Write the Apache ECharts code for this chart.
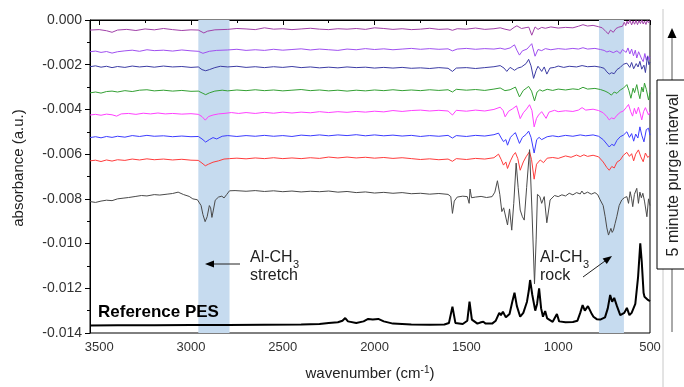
<!DOCTYPE html>
<html><head><meta charset="utf-8">
<script src="https://cdn.jsdelivr.net/npm/echarts@6/dist/echarts.min.js"></script>
<style>html,body{margin:0;padding:0;background:#fff}#c{width:684px;height:387px}</style>
</head><body><div id="c"></div>
<script>
var xTicks = [3500,3000,2500,2000,1500,1000,500];
var yTicks = [0,-0.002,-0.004,-0.006,-0.008,-0.010,-0.012,-0.014];
var bandStretch = [2960, 2790];
var bandRock = [778, 642];

var purge0 = [[3550,-0.00045],[3500,-0.00043],[3460,-0.00048],[3430,-0.00055],[3400,-0.00045],[3350,-0.00042],[3300,-0.00047],[3250,-0.0004],[3200,-0.00044],[3150,-0.00038],[3100,-0.00043],[3050,-0.00047],[3000,-0.00044],[2960,-0.00045],[2930,-0.00058],[2910,-0.0005],[2870,-0.00044],[2800,-0.00042],[2750,-0.00038],[2700,-0.0004],[2650,-0.00043],[2600,-0.00035],[2550,-0.00041],[2500,-0.00039],[2450,-0.00043],[2400,-0.0004],[2350,-0.00037],[2300,-0.00041],[2250,-0.00043],[2200,-0.00039],[2150,-0.00041],[2100,-0.00038],[2050,-0.00042],[2000,-0.00035],[1950,-0.00038],[1900,-0.00042],[1850,-0.00039],[1800,-0.00043],[1750,-0.00041],[1700,-0.00037],[1650,-0.00042],[1600,-0.0004],[1576,-0.00046],[1550,-0.00039],[1500,-0.00041],[1450,-0.00036],[1400,-0.00042],[1350,-0.00039],[1316,-0.00035],[1290,-0.00041],[1262,-0.00046],[1240,-0.00033],[1225,-0.00026],[1200,-0.00038],[1175,-0.00034],[1160,-0.00032],[1144,-0.00068],[1126,-0.00031],[1110,-0.00042],[1090,-0.00033],[1070,-0.00037],[1040,-0.00031],[1000,-0.00036],[960,-0.00033],[920,-0.00035],[890,-0.00028],[865,-0.00021],[840,-0.00027],[810,-0.00024],[780,-0.0003],[760,-0.00035],[740,-0.00052],[727,-0.00062],[715,-0.00045],[700,-0.00055],[685,-0.00038],[670,-0.00032],[660,-0.00024],[650,-0.00028],[640,-0.0001],[632,-0.00025],[625,-0.00005],[618,-0.00018],[610,0.0],[600,-0.00022],[592,-0.00004],[584,-0.00019],[576,-0.00002],[568,-0.00021],[560,-0.00003],[552,-0.00016],[545,0.0],[537,-0.00018],[530,-0.00005],[522,-0.0002],[515,-0.00003],[508,-0.00012],[500,-0.00002]];

var purge1 = [[3550,-0.00142],[3520,-0.00139],[3490,-0.00145],[3460,-0.00141],[3430,-0.00148],[3400,-0.00142],[3360,-0.00138],[3320,-0.00135],[3280,-0.0014],[3240,-0.00133],[3200,-0.00137],[3150,-0.00135],[3100,-0.00139],[3050,-0.00134],[3000,-0.00138],[2960,-0.0014],[2935,-0.00149],[2900,-0.0014],[2860,-0.00136],[2800,-0.00134],[2750,-0.00131],[2700,-0.00136],[2650,-0.00133],[2600,-0.00136],[2550,-0.00131],[2500,-0.00135],[2450,-0.00132],[2400,-0.00129],[2350,-0.00134],[2300,-0.0013],[2250,-0.00133],[2200,-0.00136],[2150,-0.0013],[2100,-0.00133],[2050,-0.00128],[2000,-0.00132],[1950,-0.00129],[1900,-0.00133],[1850,-0.0013],[1800,-0.00127],[1750,-0.00131],[1700,-0.00128],[1650,-0.00131],[1600,-0.00129],[1576,-0.00138],[1550,-0.0013],[1500,-0.00127],[1450,-0.00131],[1400,-0.00128],[1350,-0.0013],[1316,-0.00126],[1290,-0.00131],[1262,-0.00125],[1238,-0.00111],[1225,-0.00135],[1211,-0.00157],[1195,-0.00138],[1170,-0.0013],[1144,-0.00106],[1126,-0.00162],[1110,-0.00132],[1090,-0.00137],[1070,-0.00128],[1040,-0.00133],[1000,-0.00128],[960,-0.00131],[920,-0.00127],[890,-0.0013],[865,-0.00124],[840,-0.0013],[800,-0.00127],[770,-0.00132],[750,-0.00136],[735,-0.00143],[720,-0.00139],[700,-0.00146],[680,-0.00138],[662,-0.0015],[650,-0.00132],[642,-0.00127],[630,-0.00145],[620,-0.00125],[610,-0.00152],[600,-0.0013],[590,-0.0016],[580,-0.00135],[572,-0.0017],[562,-0.00142],[555,-0.00134],[545,-0.00175],[537,-0.00186],[528,-0.0015],[520,-0.0018],[512,-0.0016],[504,-0.00178],[500,-0.00165]];

var purge2 = [[3550,-0.00209],[3520,-0.00205],[3490,-0.00211],[3460,-0.00207],[3430,-0.00213],[3400,-0.00208],[3360,-0.00212],[3320,-0.00206],[3280,-0.0021],[3240,-0.00207],[3200,-0.00211],[3150,-0.00206],[3100,-0.0021],[3050,-0.00208],[3000,-0.00212],[2960,-0.0021],[2940,-0.00222],[2920,-0.00227],[2900,-0.00222],[2870,-0.00213],[2840,-0.00207],[2800,-0.0021],[2750,-0.00207],[2700,-0.00212],[2650,-0.00209],[2600,-0.00213],[2550,-0.00209],[2500,-0.00212],[2450,-0.00208],[2400,-0.00213],[2350,-0.0021],[2300,-0.00214],[2250,-0.00211],[2200,-0.00214],[2150,-0.0021],[2100,-0.00213],[2050,-0.00211],[2000,-0.00215],[1950,-0.00212],[1900,-0.00215],[1850,-0.00212],[1800,-0.00216],[1750,-0.00214],[1700,-0.00217],[1650,-0.00213],[1600,-0.00216],[1576,-0.0023],[1555,-0.00215],[1500,-0.00213],[1450,-0.00217],[1400,-0.00213],[1350,-0.00209],[1316,-0.00204],[1295,-0.00215],[1280,-0.0023],[1262,-0.00212],[1250,-0.00218],[1238,-0.00225],[1220,-0.00215],[1200,-0.0021],[1175,-0.00195],[1161,-0.00176],[1148,-0.00205],[1134,-0.00261],[1120,-0.00225],[1110,-0.00207],[1100,-0.00218],[1090,-0.0023],[1076,-0.0021],[1062,-0.00242],[1045,-0.00215],[1020,-0.00212],[1000,-0.00206],[970,-0.00212],[940,-0.00207],[900,-0.0021],[870,-0.00204],[840,-0.00209],[800,-0.00207],[770,-0.00211],[750,-0.00216],[735,-0.00232],[722,-0.00242],[710,-0.00236],[695,-0.0024],[680,-0.00222],[662,-0.00212],[645,-0.00198],[626,-0.00193],[610,-0.00212],[600,-0.0019],[589,-0.00218],[575,-0.00195],[565,-0.0021],[555,-0.00185],[545,-0.0022],[533,-0.00202],[525,-0.00235],[514,-0.00164],[506,-0.002],[500,-0.00188]];

var purge3 = [[3550,-0.00326],[3520,-0.00322],[3490,-0.00327],[3460,-0.0032],[3430,-0.00318],[3400,-0.00322],[3360,-0.00316],[3320,-0.0032],[3280,-0.00314],[3240,-0.00312],[3200,-0.00317],[3150,-0.00314],[3100,-0.00318],[3050,-0.00315],[3000,-0.00319],[2960,-0.00318],[2935,-0.00328],[2920,-0.00334],[2900,-0.00326],[2870,-0.00318],[2830,-0.00314],[2800,-0.00317],[2750,-0.00313],[2700,-0.00316],[2650,-0.00312],[2600,-0.00316],[2550,-0.00313],[2500,-0.00317],[2450,-0.00314],[2400,-0.00311],[2350,-0.00316],[2300,-0.00313],[2250,-0.00317],[2200,-0.00314],[2150,-0.00318],[2100,-0.00314],[2050,-0.00317],[2000,-0.00313],[1950,-0.00316],[1900,-0.00312],[1850,-0.00316],[1800,-0.00313],[1750,-0.00316],[1700,-0.00312],[1650,-0.00315],[1600,-0.00312],[1576,-0.00322],[1555,-0.0031],[1500,-0.00314],[1450,-0.00311],[1400,-0.00315],[1350,-0.00309],[1316,-0.00304],[1290,-0.00316],[1262,-0.00312],[1245,-0.00305],[1233,-0.003],[1211,-0.00344],[1190,-0.00315],[1175,-0.00306],[1161,-0.00297],[1145,-0.00318],[1129,-0.00362],[1115,-0.00322],[1100,-0.00312],[1085,-0.00318],[1060,-0.0031],[1030,-0.00315],[1000,-0.00309],[960,-0.00313],[920,-0.00308],[890,-0.00311],[865,-0.00301],[840,-0.00309],[800,-0.00306],[770,-0.00311],[745,-0.00318],[728,-0.00325],[710,-0.00336],[695,-0.00322],[680,-0.00328],[662,-0.00313],[645,-0.00305],[626,-0.00289],[615,-0.00315],[604,-0.0035],[592,-0.00305],[584,-0.00325],[572,-0.00289],[562,-0.0033],[555,-0.00352],[545,-0.003],[537,-0.00322],[530,-0.00282],[520,-0.0031],[508,-0.00358],[500,-0.00325]];

var purge4 = [[3550,-0.00425],[3520,-0.00422],[3490,-0.00426],[3460,-0.00421],[3430,-0.00424],[3405,-0.0043],[3380,-0.0042],[3340,-0.00418],[3300,-0.00422],[3260,-0.00417],[3220,-0.0042],[3180,-0.00416],[3140,-0.0042],[3100,-0.00418],[3050,-0.00421],[3000,-0.00419],[2960,-0.00422],[2940,-0.00432],[2922,-0.00448],[2905,-0.00432],[2880,-0.00425],[2850,-0.0042],[2820,-0.00418],[2780,-0.00414],[2740,-0.00418],[2700,-0.00414],[2650,-0.00418],[2600,-0.00413],[2550,-0.00417],[2500,-0.00412],[2450,-0.00416],[2400,-0.00412],[2350,-0.00415],[2300,-0.0041],[2250,-0.00414],[2200,-0.0041],[2150,-0.00413],[2100,-0.00409],[2050,-0.00412],[2000,-0.00408],[1950,-0.00411],[1900,-0.00405],[1850,-0.00409],[1800,-0.00405],[1750,-0.00403],[1700,-0.00407],[1650,-0.00404],[1600,-0.00407],[1576,-0.00425],[1555,-0.00404],[1500,-0.00408],[1450,-0.00403],[1400,-0.00407],[1350,-0.004],[1316,-0.0039],[1300,-0.00405],[1289,-0.00433],[1270,-0.00408],[1250,-0.00398],[1227,-0.00384],[1207,-0.00441],[1190,-0.00415],[1172,-0.00398],[1156,-0.00379],[1143,-0.00405],[1131,-0.00478],[1118,-0.0044],[1107,-0.00425],[1090,-0.0041],[1066,-0.0044],[1050,-0.00412],[1020,-0.00404],[1000,-0.0041],[960,-0.00406],[920,-0.00409],[890,-0.00403],[870,-0.00392],[850,-0.00403],[810,-0.00399],[780,-0.00405],[755,-0.00415],[735,-0.00432],[722,-0.00447],[710,-0.00438],[695,-0.00442],[680,-0.00426],[662,-0.00413],[645,-0.00407],[630,-0.00392],[617,-0.00378],[605,-0.0041],[595,-0.0043],[585,-0.00395],[575,-0.0042],[563,-0.0039],[553,-0.0042],[545,-0.00447],[535,-0.0041],[525,-0.00392],[517,-0.00388],[508,-0.00425],[500,-0.0041]];

var purge5 = [[3550,-0.00526],[3520,-0.00522],[3490,-0.00527],[3460,-0.00521],[3430,-0.00525],[3400,-0.0052],[3360,-0.00524],[3320,-0.00517],[3280,-0.00521],[3240,-0.00516],[3200,-0.0052],[3150,-0.00518],[3100,-0.00522],[3050,-0.00519],[3000,-0.00522],[2960,-0.00521],[2940,-0.00532],[2920,-0.00546],[2900,-0.00535],[2880,-0.00526],[2860,-0.00532],[2830,-0.0052],[2800,-0.00517],[2750,-0.00521],[2700,-0.00517],[2650,-0.0052],[2600,-0.00516],[2550,-0.0052],[2500,-0.00517],[2450,-0.00521],[2400,-0.00515],[2350,-0.00518],[2300,-0.00514],[2250,-0.00518],[2200,-0.00514],[2150,-0.00517],[2100,-0.00513],[2050,-0.00518],[2000,-0.00514],[1950,-0.00518],[1900,-0.00515],[1850,-0.00519],[1800,-0.00516],[1750,-0.00521],[1700,-0.00517],[1650,-0.0052],[1600,-0.00516],[1576,-0.00528],[1555,-0.00517],[1500,-0.00521],[1450,-0.00516],[1400,-0.00519],[1350,-0.00513],[1325,-0.00506],[1310,-0.00528],[1298,-0.00544],[1285,-0.00535],[1276,-0.0056],[1260,-0.00525],[1245,-0.00512],[1233,-0.00504],[1211,-0.00552],[1195,-0.00525],[1175,-0.00512],[1161,-0.00497],[1148,-0.00525],[1131,-0.00595],[1117,-0.00535],[1104,-0.00525],[1090,-0.00535],[1080,-0.00543],[1060,-0.00522],[1030,-0.00518],[1000,-0.00522],[960,-0.00516],[920,-0.0052],[880,-0.00514],[850,-0.00518],[810,-0.00514],[780,-0.0052],[755,-0.00535],[735,-0.00555],[722,-0.00568],[708,-0.00556],[695,-0.00562],[680,-0.00538],[662,-0.00522],[645,-0.00515],[626,-0.005],[612,-0.00525],[600,-0.00508],[589,-0.00542],[578,-0.0051],[566,-0.00528],[555,-0.00478],[545,-0.00515],[533,-0.00545],[520,-0.0049],[508,-0.00484],[500,-0.00515]];

var purge6 = [[3550,-0.0063],[3520,-0.00627],[3490,-0.00633],[3460,-0.00626],[3430,-0.00631],[3400,-0.00625],[3360,-0.00628],[3320,-0.00622],[3280,-0.00626],[3240,-0.00621],[3200,-0.00625],[3150,-0.00622],[3100,-0.00626],[3050,-0.00623],[3000,-0.00627],[2960,-0.00628],[2940,-0.0064],[2922,-0.00652],[2905,-0.00645],[2880,-0.00636],[2850,-0.0063],[2820,-0.00622],[2790,-0.0062],[2750,-0.00618],[2700,-0.00621],[2650,-0.00617],[2600,-0.0062],[2550,-0.00616],[2500,-0.0062],[2450,-0.00617],[2400,-0.0062],[2350,-0.00616],[2300,-0.00619],[2250,-0.00613],[2200,-0.00617],[2150,-0.00613],[2100,-0.00617],[2050,-0.00614],[2000,-0.00618],[1950,-0.00615],[1900,-0.00619],[1850,-0.00616],[1800,-0.0062],[1750,-0.00624],[1700,-0.00621],[1650,-0.00625],[1600,-0.00622],[1576,-0.00632],[1555,-0.0062],[1500,-0.00624],[1450,-0.00619],[1400,-0.00622],[1350,-0.00616],[1325,-0.006],[1310,-0.00625],[1298,-0.00649],[1285,-0.00635],[1276,-0.00664],[1260,-0.0063],[1245,-0.00605],[1233,-0.00593],[1220,-0.0062],[1207,-0.00672],[1190,-0.00635],[1175,-0.00612],[1156,-0.00589],[1145,-0.00625],[1131,-0.00712],[1118,-0.00645],[1098,-0.00626],[1080,-0.00638],[1060,-0.00618],[1030,-0.00615],[1000,-0.00619],[960,-0.00608],[930,-0.00614],[900,-0.00604],[880,-0.00611],[860,-0.00603],[840,-0.0061],[810,-0.00605],[780,-0.00612],[755,-0.00635],[735,-0.0066],[722,-0.00672],[708,-0.00655],[695,-0.00662],[680,-0.00636],[662,-0.00626],[645,-0.00605],[626,-0.00592],[612,-0.0061],[600,-0.00598],[589,-0.0063],[578,-0.006],[563,-0.00581],[550,-0.00612],[537,-0.00634],[525,-0.00595],[512,-0.00615],[500,-0.00605]];

var tmaFilm = [[3550,-0.00812],[3520,-0.00816],[3490,-0.0081],[3460,-0.00806],[3430,-0.00808],[3400,-0.008],[3370,-0.00797],[3340,-0.00794],[3300,-0.00789],[3270,-0.00785],[3240,-0.00787],[3200,-0.00781],[3170,-0.00783],[3130,-0.00779],[3100,-0.00776],[3070,-0.0077],[3040,-0.00781],[3010,-0.00789],[2990,-0.008],[2965,-0.00804],[2945,-0.0083],[2935,-0.0087],[2923,-0.00902],[2912,-0.0088],[2900,-0.0083],[2893,-0.0084],[2886,-0.00883],[2878,-0.0085],[2868,-0.00806],[2850,-0.00792],[2832,-0.00788],[2820,-0.00796],[2805,-0.0078],[2790,-0.00764],[2760,-0.00763],[2700,-0.00766],[2650,-0.00763],[2600,-0.00767],[2550,-0.00764],[2500,-0.00768],[2450,-0.00765],[2400,-0.00769],[2350,-0.00766],[2300,-0.00768],[2250,-0.00765],[2200,-0.0077],[2150,-0.00767],[2100,-0.00772],[2050,-0.00769],[2000,-0.00774],[1950,-0.00771],[1900,-0.00775],[1850,-0.00772],[1800,-0.00777],[1750,-0.00775],[1700,-0.00779],[1650,-0.00776],[1600,-0.0078],[1585,-0.0079],[1576,-0.00865],[1566,-0.0081],[1550,-0.00792],[1520,-0.00788],[1495,-0.0079],[1485,-0.0082],[1480,-0.00756],[1472,-0.00795],[1450,-0.00792],[1420,-0.00789],[1390,-0.00794],[1360,-0.0079],[1345,-0.0077],[1331,-0.00719],[1318,-0.0078],[1307,-0.00857],[1297,-0.0084],[1289,-0.00835],[1276,-0.00917],[1265,-0.00845],[1253,-0.0094],[1242,-0.0082],[1229,-0.0064],[1218,-0.0075],[1207,-0.0085],[1195,-0.0088],[1185,-0.00895],[1172,-0.0075],[1156,-0.0058],[1143,-0.0085],[1129,-0.0118],[1120,-0.0098],[1113,-0.0078],[1100,-0.0079],[1090,-0.0082],[1076,-0.0079],[1062,-0.00907],[1044,-0.00805],[1020,-0.00785],[1000,-0.0079],[980,-0.00782],[960,-0.00787],[940,-0.00775],[920,-0.00782],[900,-0.00772],[880,-0.00778],[871,-0.00765],[860,-0.00778],[840,-0.0077],[820,-0.00779],[800,-0.00772],[785,-0.00781],[771,-0.00805],[755,-0.0083],[744,-0.0088],[735,-0.0093],[726,-0.00962],[713,-0.00932],[706,-0.0095],[699,-0.0094],[690,-0.0091],[681,-0.0088],[668,-0.0083],[654,-0.00805],[640,-0.00795],[626,-0.0079],[617,-0.0082],[608,-0.00768],[600,-0.008],[594,-0.00835],[585,-0.0078],[572,-0.00753],[563,-0.0082],[555,-0.0077],[547,-0.00795],[539,-0.00775],[530,-0.0081],[517,-0.0088],[508,-0.008],[500,-0.0083]];

var referencePES = [[3550,-0.01366],[3400,-0.01365],[3200,-0.01365],[3000,-0.01364],[2800,-0.01364],[2600,-0.01363],[2400,-0.01362],[2300,-0.0136],[2250,-0.01355],[2200,-0.01352],[2175,-0.01345],[2160,-0.01333],[2145,-0.01348],[2100,-0.01355],[2060,-0.01348],[2035,-0.01337],[2010,-0.0134],[1980,-0.01337],[1950,-0.01348],[1900,-0.01358],[1800,-0.01362],[1700,-0.01363],[1620,-0.01362],[1595,-0.01355],[1576,-0.01282],[1560,-0.01355],[1520,-0.0136],[1495,-0.01345],[1483,-0.0126],[1470,-0.0134],[1440,-0.01358],[1420,-0.01352],[1408,-0.0135],[1395,-0.01358],[1360,-0.01358],[1340,-0.01345],[1321,-0.0131],[1312,-0.0132],[1301,-0.01305],[1285,-0.0133],[1265,-0.01315],[1250,-0.0126],[1238,-0.0122],[1225,-0.0128],[1207,-0.01327],[1190,-0.0131],[1170,-0.0126],[1160,-0.0121],[1153,-0.01163],[1141,-0.0123],[1125,-0.013],[1115,-0.0127],[1104,-0.012],[1093,-0.0129],[1083,-0.01327],[1071,-0.01302],[1060,-0.01335],[1030,-0.0135],[1007,-0.01315],[995,-0.01348],[960,-0.01352],[920,-0.01351],[895,-0.01345],[880,-0.0131],[867,-0.01275],[855,-0.013],[838,-0.0128],[820,-0.0131],[808,-0.01327],[790,-0.01338],[771,-0.0134],[745,-0.0133],[730,-0.0129],[717,-0.0123],[706,-0.0126],[695,-0.01243],[680,-0.0128],[662,-0.0132],[640,-0.0131],[626,-0.01288],[612,-0.0132],[600,-0.0131],[580,-0.0127],[565,-0.0115],[553,-0.00999],[545,-0.0108],[535,-0.0122],[530,-0.01238],[521,-0.0124],[511,-0.01252],[500,-0.01258]];

var seriesList = [
  {data: purge0, color: '#a040a8', width: 1},
  {data: purge1, color: '#a050f0', width: 1},
  {data: purge2, color: '#3c3ca4', width: 1},
  {data: purge3, color: '#34a034', width: 1},
  {data: purge4, color: '#ff40ff', width: 1},
  {data: purge5, color: '#3c3cff', width: 1},
  {data: purge6, color: '#ff3c3c', width: 1},
  {data: tmaFilm, color: '#4a4a4a', width: 1},
  {data: referencePES, color: '#000000', width: 2}
];

var FONT = 'Liberation Sans, Arial, sans-serif';
var chart = echarts.init(document.getElementById('c'), null, {renderer: 'canvas'});

var series = [{
  type: 'line', data: [], silent: true, z: 1,
  markArea: {
    silent: true,
    itemStyle: {color: '#c6dbef'},
    data: [
      [{xAxis: bandStretch[0]}, {xAxis: bandStretch[1]}],
      [{xAxis: bandRock[0]}, {xAxis: bandRock[1]}]
    ]
  }
}];
seriesList.forEach(function (s, i) {
  series.push({
    type: 'line', data: s.data, showSymbol: false, symbol: 'none',
    smooth: false, z: 3 + i, silent: true,
    lineStyle: {color: s.color, width: s.width},
    itemStyle: {color: s.color}
  });
});

chart.setOption({
  animation: false,
  backgroundColor: '#fff',
  grid: {left: 90, right: 34, top: 20, bottom: 54, show: true, borderColor: '#000', borderWidth: 1, backgroundColor: 'transparent'},
  xAxis: {
    type: 'value', min: 500, max: 3550, interval: 500, inverse: true,
    name: 'wavenumber (cm{sup|-1})', nameLocation: 'middle', nameGap: 32,
    nameTextStyle: {fontSize: 15, color: '#222', fontFamily: FONT,
      rich: {sup: {fontSize: 10, verticalAlign: 'top', padding: [0, 0, 8, 0], color: '#222', fontFamily: FONT}}},
    axisLine: {show: true, lineStyle: {color: '#000', width: 1}},
    axisTick: {show: true, inside: false, length: 5, lineStyle: {color: '#000'}},
    minorTick: {show: true, splitNumber: 2, length: 3, lineStyle: {color: '#000'}},
    splitLine: {show: false},
    axisLabel: {show: true, showMaxLabel: false, margin: 8, fontSize: 13, color: '#333', fontFamily: FONT,
      formatter: function (v) { return xTicks.indexOf(v) >= 0 ? String(v) : ''; }}
  },
  yAxis: {
    type: 'value', min: -0.014, max: 0, interval: 0.002,
    axisLine: {show: true, lineStyle: {color: '#000', width: 1}},
    axisTick: {show: true, inside: false, length: 5, lineStyle: {color: '#000'}},
    minorTick: {show: true, splitNumber: 2, length: 3, lineStyle: {color: '#000'}},
    splitLine: {show: false},
    axisLabel: {margin: 8, fontSize: 14, color: '#333', fontFamily: FONT,
      formatter: function (v) {
        for (var k = 0; k < yTicks.length; k++) { if (Math.abs(yTicks[k] - v) < 1e-9) return yTicks[k].toFixed(3); }
        return '';
      }}
  },
  series: series,
  graphic: [
    {type: 'text', z: 100, x: 19, y: 168, rotation: Math.PI / 2,
      style: {text: 'absorbance (a.u.)', fill: '#222', font: '15px ' + FONT, align: 'center', verticalAlign: 'middle'}},
    {type: 'text', left: 98, top: 304, z: 100, style: {text: 'Reference PES', fill: '#000', font: 'bold 17px ' + FONT}},
    {type: 'text', x: 250, y: 250, z: 100, style: {text: 'Al-CH', fill: '#222', font: '16px ' + FONT}},
    {type: 'text', x: 293, y: 259, z: 100, style: {text: '3', fill: '#222', font: '11px ' + FONT}},
    {type: 'text', x: 250, y: 268, z: 100, style: {text: 'stretch', fill: '#222', font: '16px ' + FONT}},
    {type: 'line', z: 100, shape: {x1: 240, y1: 264, x2: 213, y2: 264}, style: {stroke: '#222', lineWidth: 1}},
    {type: 'polygon', z: 100, shape: {points: [[205, 264], [214, 260.5], [214, 267.5]]}, style: {fill: '#000'}},
    {type: 'text', x: 540, y: 250, z: 100, style: {text: 'Al-CH', fill: '#222', font: '16px ' + FONT}},
    {type: 'text', x: 583, y: 259, z: 100, style: {text: '3', fill: '#222', font: '11px ' + FONT}},
    {type: 'text', x: 540, y: 268, z: 100, style: {text: 'rock', fill: '#222', font: '16px ' + FONT}},
    {type: 'line', z: 100, shape: {x1: 583, y1: 277, x2: 605, y2: 261}, style: {stroke: '#222', lineWidth: 1}},
    {type: 'polygon', z: 100, shape: {points: [[612, 256], [606.8, 264.1], [602.6, 258.5]]}, style: {fill: '#000'}},
    {type: 'line', z: 90, shape: {x1: 663, y1: 9, x2: 663, y2: 387}, style: {stroke: '#c8c8c8', lineWidth: 1}},
    {type: 'line', z: 91, shape: {x1: 672, y1: 332, x2: 672, y2: 36}, style: {stroke: '#555', lineWidth: 1}},
    {type: 'polygon', z: 91, shape: {points: [[672, 28], [667.5, 38], [676.5, 38]]}, style: {fill: '#000'}},
    {type: 'rect', z: 92, shape: {x: 657, y: 80, width: 40, height: 189}, style: {fill: '#fff', stroke: '#000', lineWidth: 1}},
    {type: 'text', z: 93, x: 674, y: 175, rotation: Math.PI / 2,
      style: {text: '5 minute purge interval', fill: '#222', font: '16px ' + FONT, align: 'center', verticalAlign: 'middle'}}
  ]
});
</script></body></html>
